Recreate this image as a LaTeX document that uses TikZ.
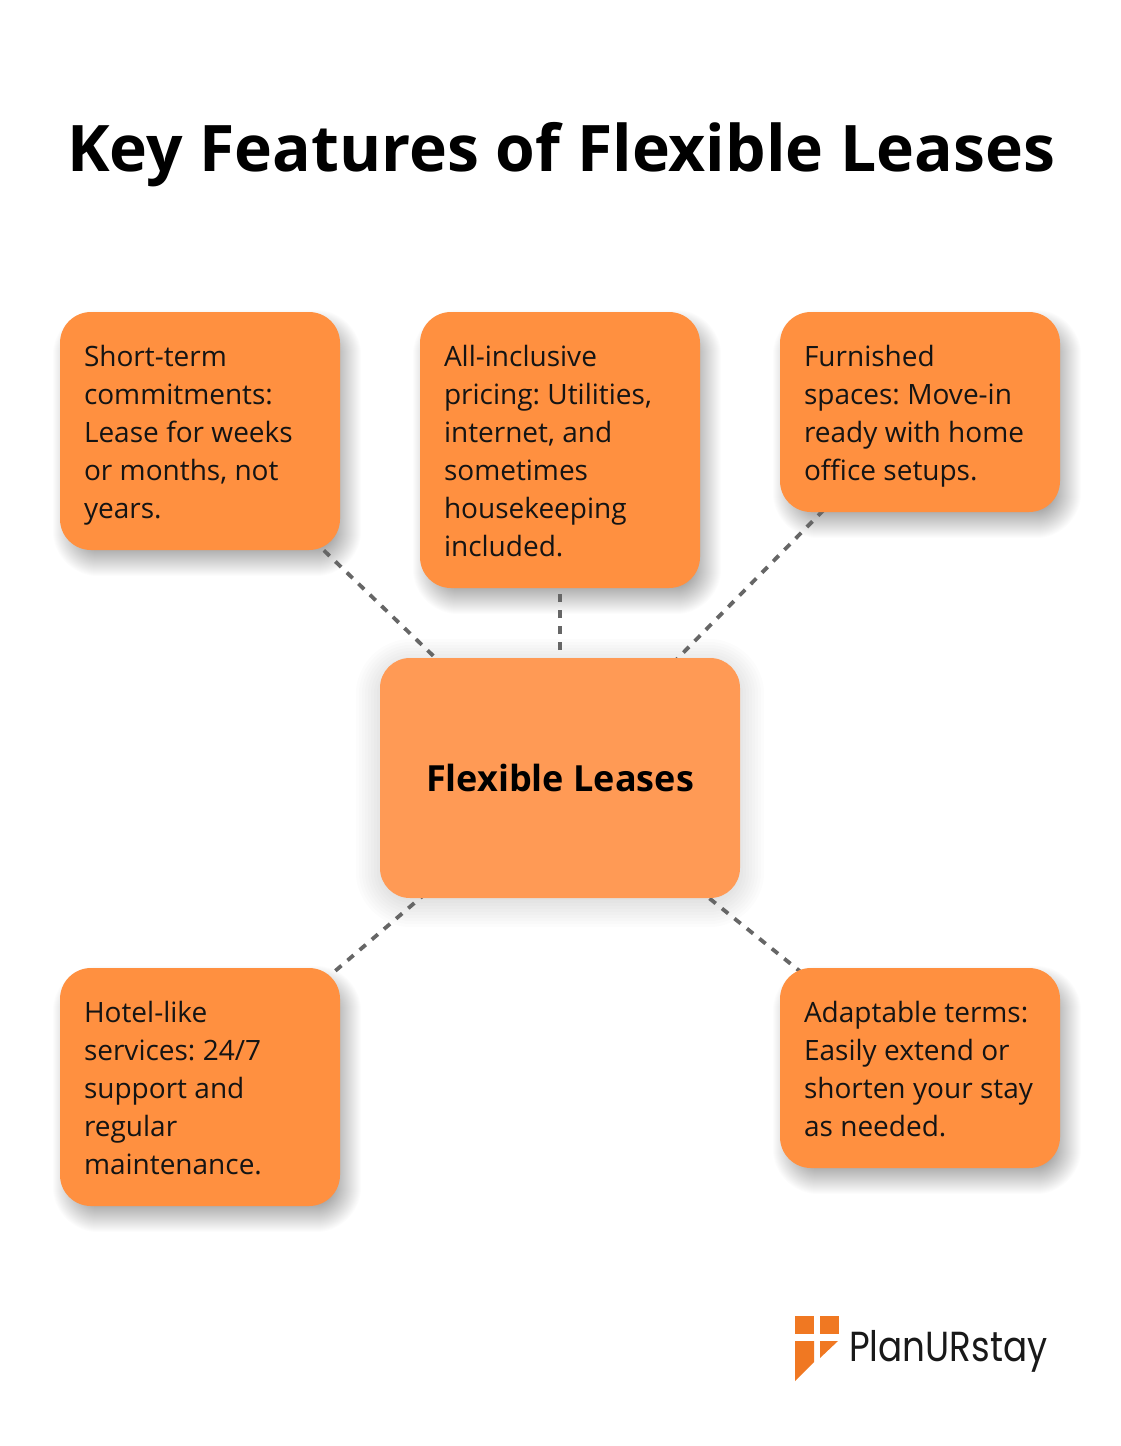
\documentclass[tikz,border=0pt]{standalone}
\usepackage{fontspec}
\setmainfont{Open Sans}
\newfontfamily\logofont[FakeStretch=0.85]{Poppins}
\usetikzlibrary{calc}
\pgfdeclarelayer{shadowlayer}
\pgfdeclarelayer{linelayer}
\pgfsetlayers{shadowlayer,linelayer,main}
\definecolor{boxorange}{HTML}{FF9040}
\definecolor{midorange}{HTML}{FF9A55}
\definecolor{logoorange}{HTML}{F07822}
\definecolor{linegrey}{HTML}{666666}
\newcommand{\firstln}{\spaceskip=7.4pt plus 2pt minus 1pt\relax\rule{0pt}{30pt}}
\newcommand{\lastln}{\rule[-8pt]{0pt}{8pt}}
\frenchspacing
\tikzset{
  card/.style={fill=boxorange,rounded corners=31pt,minimum width=280pt,inner xsep=24pt,inner ysep=0pt,
    text width=232pt,align=left,text=black!92,font=\fontsize{28pt}{38pt}\selectfont},
  hub/.style={fill=midorange,rounded corners=30pt,minimum width=360pt,minimum height=240pt,
    font=\fontsize{36pt}{40pt}\selectfont\bfseries,text=black},
  link/.style={draw=linegrey,line width=3.8pt,dash pattern=on 8pt off 8pt},
  logomark/.style={fill=logoorange,draw=none}
}
\begin{document}
\begin{tikzpicture}[x=1pt,y=-1pt]
\useasboundingbox (0,0) rectangle (1120,1446);
\begin{pgfonlayer}{shadowlayer}
\fill[white] (0,0) rectangle (1120,1446);
\end{pgfonlayer}
\node[font=\fontsize{64.2pt}{70pt}\selectfont\bfseries,inner sep=0pt] (title) at (561,155) {Key Features of Flexible Leases};
\node[card,minimum height=238pt] (a) at (200,431) {\firstln Short-term\\commitments:\\Lease for weeks\\or months, not\\years.\lastln};
\node[card,minimum height=276pt] (b) at (560,450) {\firstln All-inclusive\\pricing: Utilities,\\internet, and\\sometimes\\housekeeping\\included.\lastln};
\node[card,minimum height=200pt] (c) at (920,412) {\firstln Furnished\\spaces: Move-in\\ready with home\\office setups.\lastln};
\node[hub] (h) at (560,778) {\raisebox{-1pt}{Flexible Leases}};
\node[card,minimum height=238pt] (d) at (200,1087) {\firstln Hotel-like\\services: 24/7\\support and\\regular\\maintenance.\lastln};
\node[card,minimum height=200pt] (e) at (920,1068) {\firstln Adaptable terms:\\Easily extend or\\shorten your stay\\as needed.\lastln};
\begin{pgfonlayer}{shadowlayer}
\foreach \n in {a,b,c,d,e}{
  \foreach \k in {-14,-13,...,14}{
    \pgfmathsetmacro\rr{32+\k}
    \fill[black,opacity=0.013,rounded corners=\rr pt]
      ($(\n.north west)+(7-\k,12-\k)$) rectangle ($(\n.south east)+(7+\k,12+\k)$);
  }
}
\foreach \k in {-24,-21,...,24}{
  \pgfmathsetmacro\rr{32+\k}
  \fill[black,opacity=0.010,rounded corners=\rr pt]
    ($(h.north west)+(-\k,5-\k)$) rectangle ($(h.south east)+(\k,5+\k)$);
}
\end{pgfonlayer}
\begin{pgfonlayer}{linelayer}
\draw[link] (h.center) -- (a.center);
\draw[link] (h.center) -- (b.center);
\draw[link] (h.center) -- (c.center);
\draw[link] (h.center) -- (d.center);
\draw[link] (h.center) -- (e.center);
\end{pgfonlayer}
\fill[logomark] (795,1316) rectangle (814,1334);
\fill[logomark] (820,1316) rectangle (839,1334);
\fill[logomark] (795,1341) -- (814,1341) -- (814,1362) -- (795,1381) -- cycle;
\fill[logomark] (820,1341) -- (838,1341) -- (820,1358) -- cycle;
\node[inner sep=0pt,anchor=base west,font=\logofont\fontsize{42pt}{44pt}\selectfont,text=black!90] (logo) at (849,1361) {PlanURstay};
\end{tikzpicture}
\end{document}
